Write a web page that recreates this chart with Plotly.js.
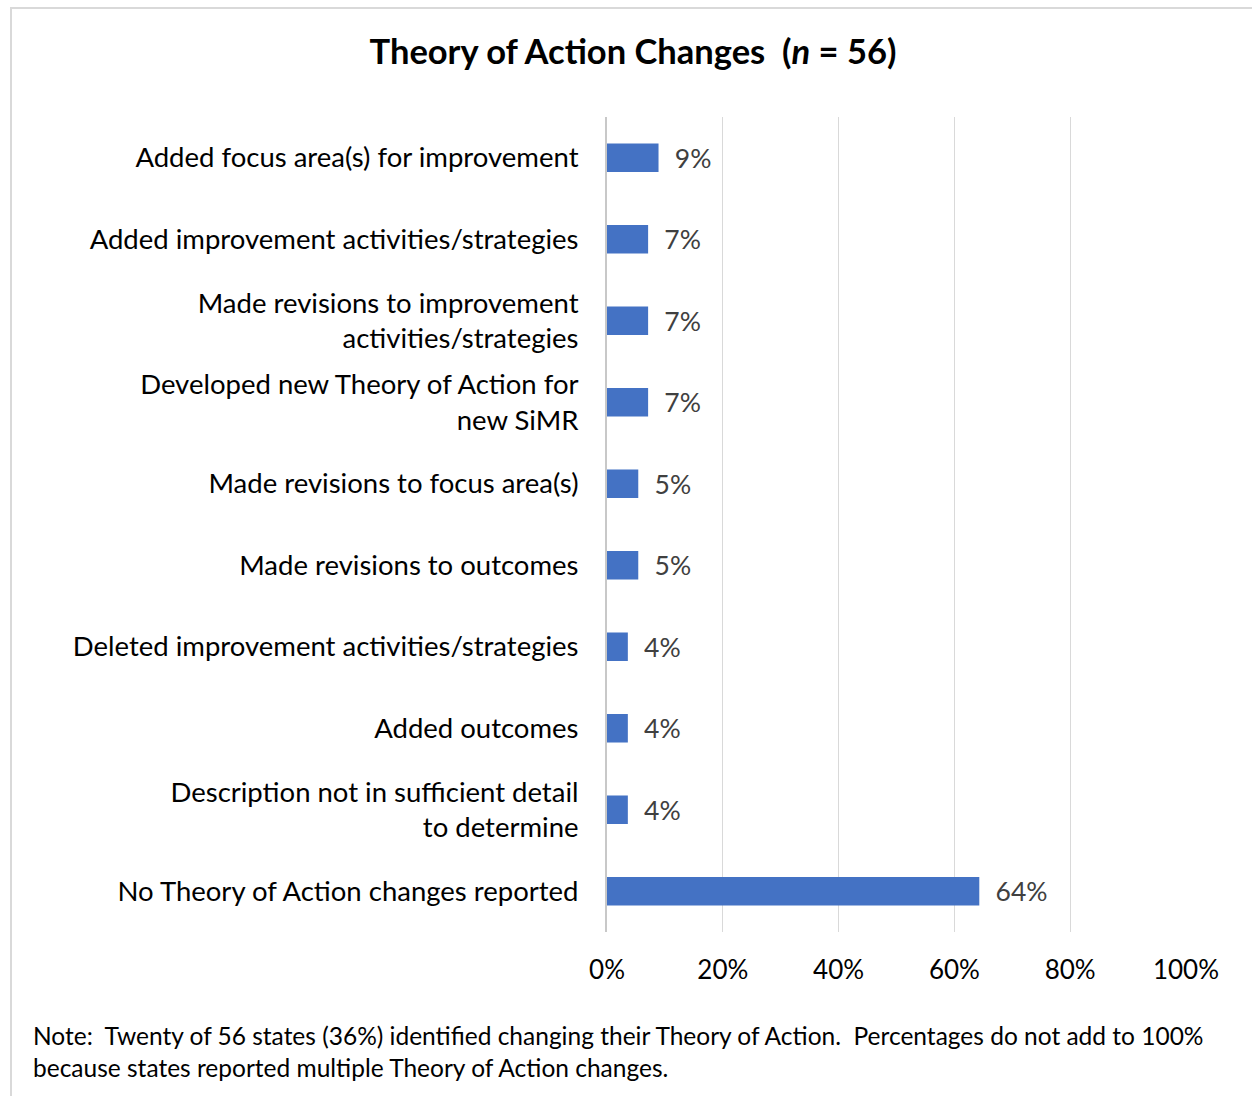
<!DOCTYPE html>
<html>
<head>
<meta charset="utf-8">
<script src="https://cdn.plot.ly/plotly-3.0.1.min.js"></script>
<style>
  html, body { margin: 0; padding: 0; background: #fff; }
  #wrap { position: relative; width: 1252px; height: 1096px; overflow: hidden; }
  #frame { position: absolute; left: 10px; top: 7px; width: 1280px; height: 1130px; border: 2px solid #d9d9d9; box-sizing: border-box; pointer-events: none; }
  #chart { position: absolute; left: 0; top: 0; width: 1252px; height: 1096px; }
</style>
</head>
<body>
<div id="wrap">
  <div id="chart"></div>
  <div id="frame"></div>
</div>
<script>
const categories = [
  "Added focus area(s) for improvement",
  "Added improvement activities/strategies",
  "Made revisions to improvement<br>activities/strategies",
  "Developed new Theory of Action for<br>new SiMR",
  "Made revisions to focus area(s)",
  "Made revisions to outcomes",
  "Deleted improvement activities/strategies",
  "Added outcomes",
  "Description not in sufficient detail<br>to determine",
  "No Theory of Action changes reported"
];
const percentages = [8.9, 7.1, 7.1, 7.1, 5.4, 5.4, 3.6, 3.6, 3.6, 64.3];
const xTickValues = [0, 20, 40, 60, 80, 100];
const xTickLabels = ["0%", "20%", "40%", "60%", "80%", "100%"];
const titleText = "<b>Theory of Action Changes  (<i>n</i> = 56)</b>";
const noteText = "Note:  Twenty of 56 states (36%) identified changing their Theory of Action.  Percentages do not add to 100%<br>because states reported multiple Theory of Action changes.";

const FONT = "Lato, 'Open Sans', sans-serif";
const W = 1252, H = 1096;
const m = { l: 607, r: 66, t: 117, b: 164 };
const pw = W - m.l - m.r, ph = H - m.t - m.b;

const trace = {
  type: "bar",
  orientation: "h",
  y: categories,
  x: percentages,
  marker: { color: "#4472C4", line: { width: 0 } },
  texttemplate: "\u2002%{x:.0f}%",
  textposition: "outside",
  constraintext: "none",
  cliponaxis: false,
  textfont: { family: FONT, size: 26.5, color: "#404040" },
  hoverinfo: "skip"
};

const layout = {
  width: W, height: H,
  margin: m,
  paper_bgcolor: "rgba(0,0,0,0)",
  plot_bgcolor: "rgba(0,0,0,0)",
  showlegend: false,
  bargap: 0.65,
  font: { family: FONT, color: "#000" },
  title: {
    text: titleText,
    font: { family: FONT, size: 34.5, color: "#000" },
    x: 633 / W, xanchor: "center",
    y: 1 - 52 / H, yanchor: "middle"
  },
  xaxis: {
    range: [0, 100],
    tickvals: xTickValues,
    ticktext: xTickLabels,
    showgrid: true,
    gridcolor: "#d9d9d9",
    gridwidth: 1,
    zeroline: false,
    showline: false,
    ticks: "",
    ticklabelstandoff: 20,
    tickfont: { family: FONT, size: 26, color: "#000" },
    fixedrange: true
  },
  yaxis: {
    type: "category",
    autorange: "reversed",
    showgrid: false,
    zeroline: false,
    showline: true,
    linecolor: "#c8c8c8",
    linewidth: 2,
    ticks: "",
    ticklabelstandoff: 21,
    tickfont: { family: FONT, size: 27.5, color: "#000" },
    fixedrange: true
  },
  annotations: [{
    text: noteText,
    xref: "paper", yref: "paper",
    x: (31 - m.l) / pw, xanchor: "left",
    y: (H - m.b - 1051) / ph, yanchor: "middle",
    align: "left",
    showarrow: false,
    font: { family: FONT, size: 24.5, color: "#000" }
  }]
};

Plotly.newPlot("chart", [trace], layout, { displayModeBar: false, staticPlot: true });
</script>
</body>
</html>
